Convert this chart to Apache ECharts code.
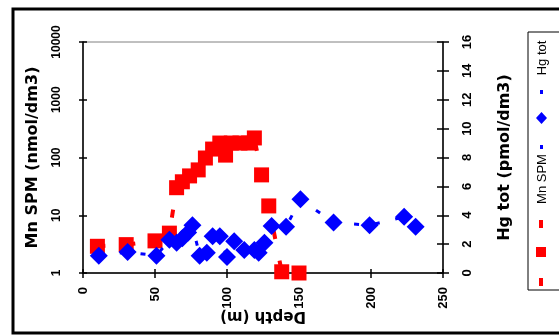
<!DOCTYPE html>
<html>
<head>
<meta charset="utf-8">
<script src="https://cdn.jsdelivr.net/npm/echarts@6.0.0/dist/echarts.min.js"></script>
<style>
html,body{margin:0;padding:0;background:#fff;}
#chart{width:559px;height:336px;}
</style>
</head>
<body>
<div id="chart"></div>
<script>
// Data
const depthMn = [10, 30, 50, 60, 65, 69, 74, 80, 85, 90, 95, 99, 103, 109, 115, 119, 124, 129, 138, 150];
const mnSPM   = [2.9, 3.1, 3.6, 4.9, 30, 38, 48, 61, 98, 140, 178, 110, 178, 178, 178, 218, 50, 14.5, 1.05, 1.0];

const depthHg = [11, 31, 51, 60, 65, 69, 73, 76, 81, 86, 90, 95, 100, 105, 112, 119, 122, 126, 131, 141, 151, 174, 199, 223, 231];
const hgTot   = [1.2, 1.45, 1.2, 2.3, 2.1, 2.4, 2.8, 3.3, 1.2, 1.4, 2.55, 2.55, 1.1, 2.2, 1.6, 1.6, 1.4, 2.1, 3.25, 3.2, 5.1, 3.5, 3.3, 3.9, 3.2];

const xTicks = [0, 50, 100, 150, 200, 250];
const leftTicks = [1, 10, 100, 1000, 10000];
const rightTicks = [0, 2, 4, 6, 8, 10, 12, 14, 16];

const seriesNames = ['Mn SPM', 'Hg tot'];
const axisTitles = { x: 'Depth (m)', left: 'Mn SPM (nmol/dm3)', right: 'Hg tot (pmol/dm3)' };

const FONT = 'Liberation Sans';
const TITLE_FONT = 'DejaVu Sans';
const chart = echarts.init(document.getElementById('chart'), null, { renderer: 'canvas' });

const mnData = depthMn.map((d, i) => [d, mnSPM[i]]);
const hgData = depthHg.map((d, i) => [d, hgTot[i]]);

const tickLabelStyle = { fontFamily: FONT, fontWeight: 'bold', color: '#000' };

const option = {
  animation: false,
  backgroundColor: '#fff',
  grid: {
    left: 83, right: 116, top: 42, bottom: 63,
    show: true, borderColor: '#808080', borderWidth: 1, backgroundColor: '#fff'
  },
  xAxis: [
    {
      type: 'value', min: xTicks[0], max: xTicks[xTicks.length - 1], interval: 50,
      position: 'bottom',
      name: axisTitles.x, nameLocation: 'middle', nameRotate: 180, nameGap: 35,
      nameMoveOverlap: false,
      nameTextStyle: { fontFamily: TITLE_FONT, fontWeight: 'bold', fontSize: 15, color: '#000' },
      axisLine: { show: true, onZero: false, lineStyle: { color: '#000', width: 1.5 } },
      axisTick: { show: true, length: 5, lineStyle: { color: '#000', width: 1.5 } },
      axisLabel: Object.assign({ fontSize: 13, rotate: 90, margin: 14 }, tickLabelStyle),
      splitLine: { show: false }
    },
    {
      type: 'value', min: xTicks[0], max: xTicks[xTicks.length - 1], interval: 50,
      position: 'bottom',
      axisLine: { show: false, onZero: false },
      axisTick: { show: true, inside: true, length: 4, lineStyle: { color: '#000', width: 1.5 } },
      axisLabel: { show: false },
      splitLine: { show: false }
    }
  ],
  yAxis: [
    {
      type: 'log', logBase: 10, min: leftTicks[0], max: leftTicks[leftTicks.length - 1],
      position: 'left',
      name: axisTitles.left, nameLocation: 'middle', nameRotate: 90, nameGap: 42,
      nameTextStyle: { fontFamily: TITLE_FONT, fontWeight: 'bold', fontSize: 16, color: '#000' },
      axisLine: { show: true, onZero: false, lineStyle: { color: '#000', width: 1.5 } },
      axisTick: { show: true, length: 4, lineStyle: { color: '#000', width: 1.5 } },
      minorTick: { show: false },
      axisLabel: Object.assign({ fontSize: 12, rotate: 90, margin: 20, formatter: v => String(v) }, tickLabelStyle),
      splitLine: { show: false }
    },
    {
      type: 'value', min: rightTicks[0], max: rightTicks[rightTicks.length - 1], interval: 2,
      position: 'right',
      name: axisTitles.right, nameLocation: 'middle', nameRotate: 90, nameGap: 54,
      nameTextStyle: { fontFamily: TITLE_FONT, fontWeight: 'bold', fontSize: 16, color: '#000' },
      axisLine: { show: true, onZero: false, lineStyle: { color: '#000', width: 1.5 } },
      axisTick: { show: true, length: 6, lineStyle: { color: '#000', width: 1.5 } },
      axisLabel: Object.assign({ fontSize: 13, rotate: 90, margin: 18 }, tickLabelStyle),
      splitLine: { show: false }
    },
    {
      type: 'log', logBase: 10, min: leftTicks[0], max: leftTicks[leftTicks.length - 1],
      position: 'left',
      axisLine: { show: false, onZero: false },
      axisTick: { show: true, inside: true, length: 4, lineStyle: { color: '#000', width: 1.5 } },
      axisLabel: { show: false },
      splitLine: { show: false }
    },
    {
      type: 'value', min: rightTicks[0], max: rightTicks[rightTicks.length - 1], interval: 2,
      position: 'right',
      axisLine: { show: false, onZero: false },
      axisTick: { show: true, inside: true, length: 6, lineStyle: { color: '#000', width: 1.5 } },
      axisLabel: { show: false },
      splitLine: { show: false }
    }
  ],
  series: [
    {
      name: seriesNames[0], type: 'line', xAxisIndex: 0, yAxisIndex: 0,
      data: mnData, clip: false,
      symbol: 'rect', symbolSize: 15,
      itemStyle: { color: '#ff0000' },
      lineStyle: { color: '#ff0000', width: 4, type: [8, 22] },
      z: 2
    },
    {
      name: seriesNames[1], type: 'line', xAxisIndex: 0, yAxisIndex: 1,
      data: hgData, clip: false,
      symbol: 'diamond', symbolSize: [18, 18],
      itemStyle: { color: '#0000ff' },
      lineStyle: { color: '#0000ff', width: 3, type: [5, 16] },
      z: 3
    }
  ],
  graphic: [
    // outer chart frame
    { type: 'rect', shape: { x: 13, y: 9, width: 600, height: 324 }, style: { fill: 'none', stroke: '#000', lineWidth: 3 }, z: 100, silent: true },
    // legend box (rotated legend)
    { type: 'rect', shape: { x: 528, y: 32, width: 60, height: 258 }, style: { fill: '#fff', stroke: '#000', lineWidth: 1 }, z: 100, silent: true },
    // Mn SPM legend symbol
    { type: 'rect', shape: { x: 539, y: 278, width: 4, height: 8 }, style: { fill: '#ff0000' }, z: 101 },
    { type: 'rect', shape: { x: 536, y: 247, width: 10, height: 10 }, style: { fill: '#ff0000' }, z: 101 },
    { type: 'rect', shape: { x: 539, y: 220, width: 4, height: 8 }, style: { fill: '#ff0000' }, z: 101 },
    { type: 'text', x: 542, y: 179, rotation: Math.PI / 2,
      style: { text: seriesNames[0], fontFamily: FONT, fontSize: 13, fill: '#000', align: 'center', verticalAlign: 'middle' }, z: 101 },
    // Hg tot legend symbol
    { type: 'rect', shape: { x: 540, y: 145, width: 3, height: 4 }, style: { fill: '#0000ff' }, z: 101 },
    { type: 'polygon', shape: { points: [[541.5, 112], [547, 118], [541.5, 124], [536, 118]] }, style: { fill: '#0000ff' }, z: 101 },
    { type: 'rect', shape: { x: 540, y: 90, width: 3, height: 4 }, style: { fill: '#0000ff' }, z: 101 },
    { type: 'text', x: 542, y: 58, rotation: Math.PI / 2,
      style: { text: seriesNames[1], fontFamily: FONT, fontSize: 13, fill: '#000', align: 'center', verticalAlign: 'middle' }, z: 101 }
  ]
};
chart.setOption(option);
</script>
</body>
</html>
